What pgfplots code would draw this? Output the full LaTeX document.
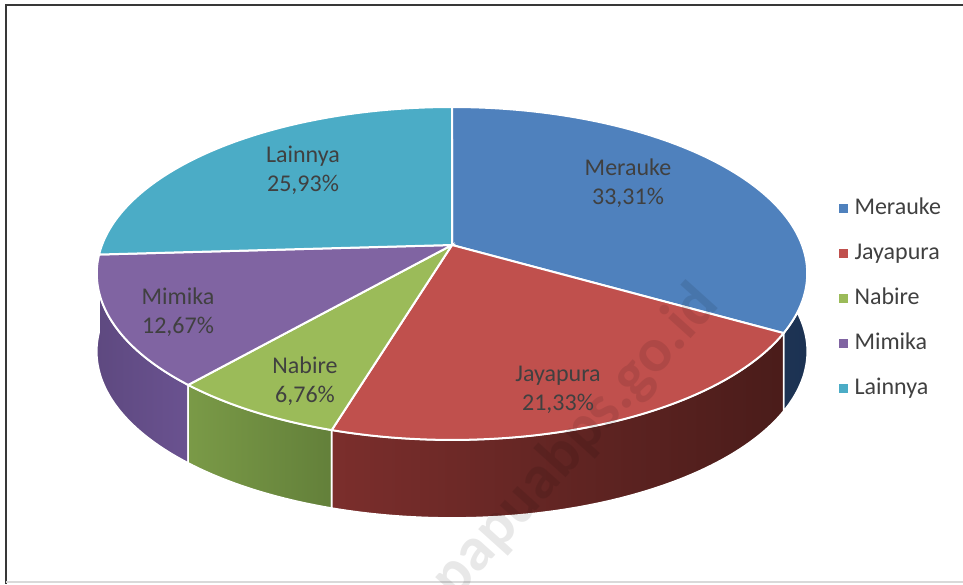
\documentclass[border=0pt]{standalone}
\usepackage{pgfplots}
\pgfplotsset{compat=1.18}
\usepackage{pgfplotstable}
\usepackage{fontspec}
\setmainfont{Carlito}

\definecolor{cMer}{HTML}{4F81BD}
\definecolor{cJay}{HTML}{C0504D}
\definecolor{cNab}{HTML}{9BBB59}
\definecolor{cMim}{HTML}{8064A2}
\definecolor{cLai}{HTML}{4BACC6}
\definecolor{sMerL}{HTML}{2A4670}
\definecolor{sMerR}{HTML}{1C3252}
\definecolor{sJayL}{HTML}{7B2E2C}
\definecolor{sJayR}{HTML}{4A1C1A}
\definecolor{sNabL}{HTML}{7A9A47}
\definecolor{sNabR}{HTML}{63803A}
\definecolor{sMimL}{HTML}{5E4980}
\definecolor{sMimR}{HTML}{6A5290}
\definecolor{sLai}{HTML}{2E7F95}
\definecolor{lab}{HTML}{404040}

\pgfplotstableread{
name value
Merauke 33.31
Jayapura 21.33
Nabire 6.76
Mimika 12.67
Lainnya 25.93
}\piedata

\pgfplotstablegetelem{0}{value}\of\piedata \let\vA\pgfplotsretval
\pgfplotstablegetelem{1}{value}\of\piedata \let\vB\pgfplotsretval
\pgfplotstablegetelem{2}{value}\of\piedata \let\vC\pgfplotsretval
\pgfplotstablegetelem{3}{value}\of\piedata \let\vD\pgfplotsretval
\pgfplotstablegetelem{4}{value}\of\piedata \let\vE\pgfplotsretval
% slice boundaries (math angles, clockwise from 12 o'clock)
\pgfmathsetmacro\tA{90}
\pgfmathsetmacro\tB{\tA-3.6*\vA}
\pgfmathsetmacro\tC{\tB-3.6*\vB}
\pgfmathsetmacro\tD{\tC-3.6*\vC}
\pgfmathsetmacro\tE{\tD-3.6*\vD}
\pgfmathsetmacro\tF{\tE-3.6*\vE}

\newcommand\side[4]{% start end leftcolor rightcolor
  \addplot[forget plot, left color=#3, right color=#4, draw=white, line width=0.8pt,
    domain=0:3, samples=301, variable=\s]
   ({px(#1+(#2-#1)*(min(\s,1)-max(\s-2,0)))},
    {py(#1+(#2-#1)*(min(\s,1)-max(\s-2,0)))+78*min(max(\s-1,0),1)}) -- cycle;
}
\newcommand\topface[3]{% start end color
  \addplot[forget plot, fill=#3, draw=white, line width=1pt,
    domain=#2:#1, samples=90, variable=\t]
   ({px(\t)},{py(\t)}) -- (axis cs:452,245) -- cycle;
}

\begin{document}
\begin{tikzpicture}[
  declare function={
    px(\a)=452+350*cos(\a)/(1+0.171*sin(\a));
    py(\a)=245-161.6*sin(\a)/(1+0.171*sin(\a));
  }]
\begin{axis}[
  scale only axis, width=481.5pt, height=292pt,
  xmin=0, xmax=963, ymin=0, ymax=584, y dir=reverse,
  axis lines=none, clip=false,
  legend image code/.code={\fill[#1, draw=none] (0pt,-2.25pt) rectangle (4.5pt,2.25pt);
    \path[draw=none, fill=none] (0pt,-0.1pt) rectangle (7.8pt,0.1pt);},
  legend style={at={(axis cs:838.5,197)}, anchor=north west, draw=none, fill=none,
    inner sep=0pt, row sep=11.5pt, font=\fontsize{12}{14}\selectfont, text=lab,
    nodes={inner sep=0pt, text height=8.5pt, text depth=2.5pt}},
  legend cell align=left,
]
% frame
\draw[black!78, line width=1.1pt] (axis cs:963,5) -- (axis cs:6,5) -- (axis cs:6,584);
\draw[black!15, line width=0.8pt] (axis cs:6,582) -- (axis cs:963,582);

% sides (back to front)
\side{\tE}{\tF}{sLai}{sLai}
\side{\tA}{\tB}{sMerL}{sMerR}
\side{\tD}{\tE}{sMimL}{sMimR}
\side{\tC}{\tD}{sNabL}{sNabR}
\side{\tB}{\tC}{sJayL}{sJayR}

% tops
\topface{\tA}{\tB}{cMer}
\topface{\tB}{\tC}{cJay}
\topface{\tC}{\tD}{cNab}
\topface{\tD}{\tE}{cMim}
\topface{\tE}{\tF}{cLai}

% watermark
\node[rotate=48, font=\fontsize{31}{31}\selectfont\bfseries, text=black, opacity=0.09]
  at (axis cs:576,442) {papuabps.go.id};

% data labels
\begin{scope}[every node/.style={align=center, text=lab, font=\fontsize{12}{14.5}\selectfont}]
\node at (axis cs:628,183) {Merauke\\33,31\%};
\node at (axis cs:558,390) {Jayapura\\21,33\%};
\node at (axis cs:305,381) {Nabire\\6,76\%};
\node at (axis cs:178,312) {Mimika\\12,67\%};
\node at (axis cs:303,170) {Lainnya\\25,93\%};
\end{scope}

\addlegendimage{fill=cMer}
\addlegendimage{fill=cJay}
\addlegendimage{fill=cNab}
\addlegendimage{fill=cMim}
\addlegendimage{fill=cLai}
\legend{Merauke,Jayapura,Nabire,Mimika,Lainnya}

\coordinate (BBsw) at (axis cs:0,584);
\coordinate (BBne) at (axis cs:963,0);
\end{axis}
\pgfresetboundingbox
\path[use as bounding box] (BBsw) rectangle (BBne);
\end{tikzpicture}
\end{document}
